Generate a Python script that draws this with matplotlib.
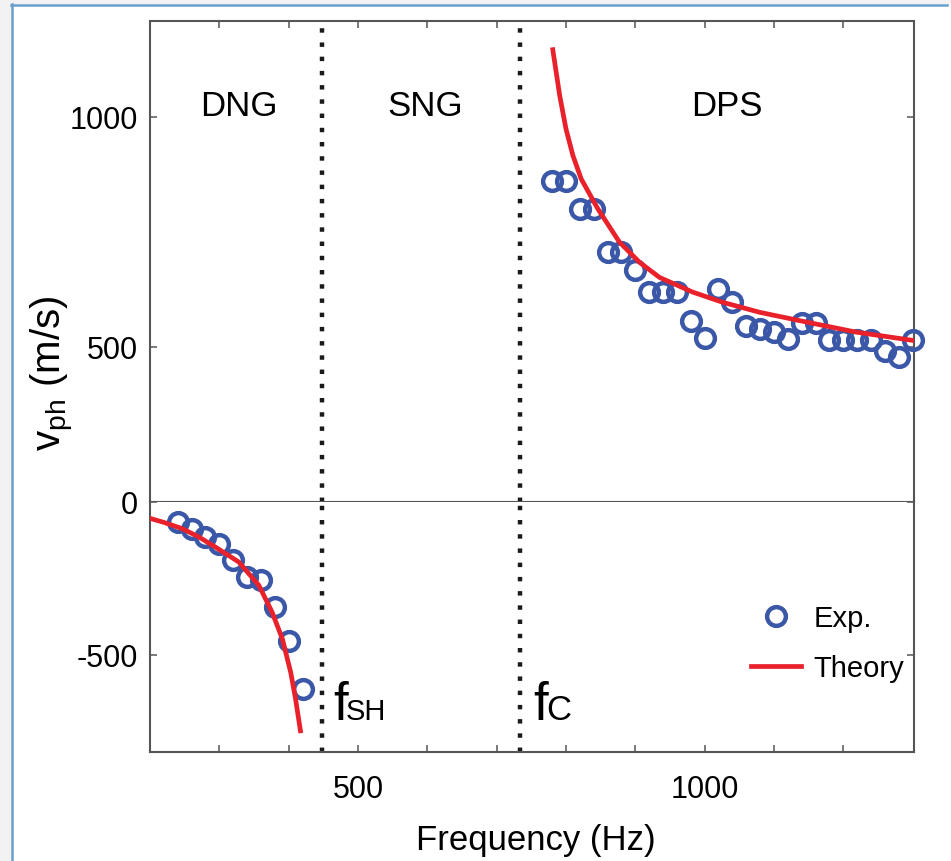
import matplotlib
matplotlib.use('Agg')
import matplotlib.pyplot as plt
from matplotlib.lines import Line2D
from matplotlib.patches import Rectangle

# measured phase velocity (double negative band)
dng_freq = [240, 260, 280, 300, 320, 340, 360, 380, 400, 420]
dng_vph = [-66, -88, -115, -137, -192, -246, -257, -344, -453, -611]

# measured phase velocity (double positive band)
dps_freq = [780, 800, 820, 840, 860, 880, 900, 920, 940, 960, 980, 1000, 1020, 1040,
            1060, 1080, 1100, 1120, 1140, 1160, 1180, 1200, 1220, 1240, 1260, 1280, 1300]
dps_vph = [861, 861, 800, 800, 707, 707, 668, 619, 619, 619, 557, 519, 626, 597,
           546, 539, 532, 517, 553, 553, 514, 514, 514, 514, 492, 478, 514]

# theory curves
theo_dng_freq = [200, 220, 246, 270, 294, 328, 357, 376, 391, 403, 410, 417]
theo_dng_vph = [-55, -68, -88, -115, -148, -197, -273, -360, -448, -557, -644, -747]
theo_dps_freq = [781, 791, 800, 810, 822, 846, 877, 906, 935, 983, 1026, 1080, 1147, 1219, 1301]
theo_dps_vph = [1146, 1046, 974, 916, 865, 800, 728, 684, 651, 619, 597, 575, 554, 532, 514]

# band edges
f_sh = 448
f_c = 733

region_names = ['DNG', 'SNG', 'DPS']
region_x = [328, 597, 1032]

W, H = 951, 862
plt.rcParams['font.family'] = ['Liberation Sans', 'DejaVu Sans']
plt.rcParams['axes.unicode_minus'] = False

BLUE = '#3b57a7'
RED = '#e8212b'
SPINE = '#555555'
DOTS = (0, (1.0, 2.2))

fig = plt.figure(figsize=(W / 100, H / 100), dpi=100, facecolor='#f2f2f2')

# white page with blue frame (left and top)
fig.patches.append(Rectangle((12 / W, 0), 1, 1 - 6 / H, transform=fig.transFigure,
                             facecolor='white', edgecolor='none', zorder=-10))
fig.lines.append(Line2D([12 / W, 12 / W], [0, 1 - 5 / H], transform=fig.transFigure,
                        color='#6a9fcb', lw=1.8))
fig.lines.append(Line2D([11 / W, 947 / W], [1 - 5.5 / H, 1 - 5.5 / H], transform=fig.transFigure,
                        color='#6a9fcb', lw=1.8))

left = 150 / W
width = (914 - 150) / W
ax_top = fig.add_axes([left, 1 - 502.5 / H, width, (502.5 - 21.7) / H])
ax_bot = fig.add_axes([left, 1 - 753 / H, width, (753 - 502.5) / H])

for ax in (ax_top, ax_bot):
    ax.set_xlim(200, 1302)
    for s in ax.spines.values():
        s.set_color(SPINE)
        s.set_linewidth(1.5)
    ax.tick_params(direction='in', length=5, width=1.1, color=SPINE,
                   left=True, right=True, labelsize=22, pad=8.6)
    ax.axvline(f_sh, color='#1a1a1a', lw=3.2, linestyle=DOTS)
    ax.axvline(f_c, color='#1a1a1a', lw=3.2, linestyle=DOTS)

# upper panel: positive velocities
ax_top.set_ylim(164, 1209)
ax_top.set_yticks([500, 1000])
ax_top.set_xticks(range(300, 1300, 100))
ax_top.tick_params(axis='x', top=True, bottom=False, labelbottom=False)
ax_top.plot(dps_freq, dps_vph, 'o', ms=13.5, mfc='none', mec=BLUE, mew=3.2,
            clip_on=False, zorder=3)
ax_top.plot(theo_dps_freq, theo_dps_vph, '-', color=RED, lw=3.4, zorder=4)
for name, x in zip(region_names, region_x):
    ax_top.text(x, 1004, name, ha='center', va='baseline', fontsize=25)

# lower panel: negative velocities
ax_bot.set_ylim(-816, 0)
ax_bot.set_yticks([-500, 0])
ax_bot.spines['top'].set_visible(False)
ax_bot.set_xticks(range(300, 1300, 100))
ax_bot.set_xticklabels([str(v) if v in (500, 1000) else '' for v in range(300, 1300, 100)])
ax_bot.tick_params(axis='x', top=False, bottom=True, pad=16)
exp_line, = ax_bot.plot(dng_freq, dng_vph, 'o', ms=13.5, mfc='none', mec=BLUE, mew=3.2,
                        label='Exp.', zorder=3)
theo_line, = ax_bot.plot(theo_dng_freq, theo_dng_vph, '-', color=RED, lw=3.4,
                         label='Theory', zorder=4)

# band edge labels
for x_px, sub, sub_size in [(333, 'SH', 21), (533, 'C', 25)]:
    fig.text(x_px / W, 1 - 720 / H, 'f', fontsize=38, ha='left', va='baseline')
    fig.text((x_px + 13) / W, 1 - 720 / H, sub, fontsize=sub_size, ha='left', va='baseline')

ax_bot.legend(handles=[exp_line, theo_line], loc='center left',
              bbox_to_anchor=(751 / W, 1 - 644 / H), bbox_transform=fig.transFigure,
              frameon=False, fontsize=21, handlelength=1.7, handletextpad=0.45,
              labelspacing=0.75, borderpad=0, borderaxespad=0)

fig.text(536 / W, 1 - 850 / H, 'Frequency (Hz)', ha='center', va='baseline', fontsize=25)
fig.text(52 / W, 1 - 373 / H, r'$\mathregular{v_{ph}}$ (m/s)', rotation=90,
         ha='center', va='center', fontsize=29)

fig.savefig('out.png', dpi=100)
